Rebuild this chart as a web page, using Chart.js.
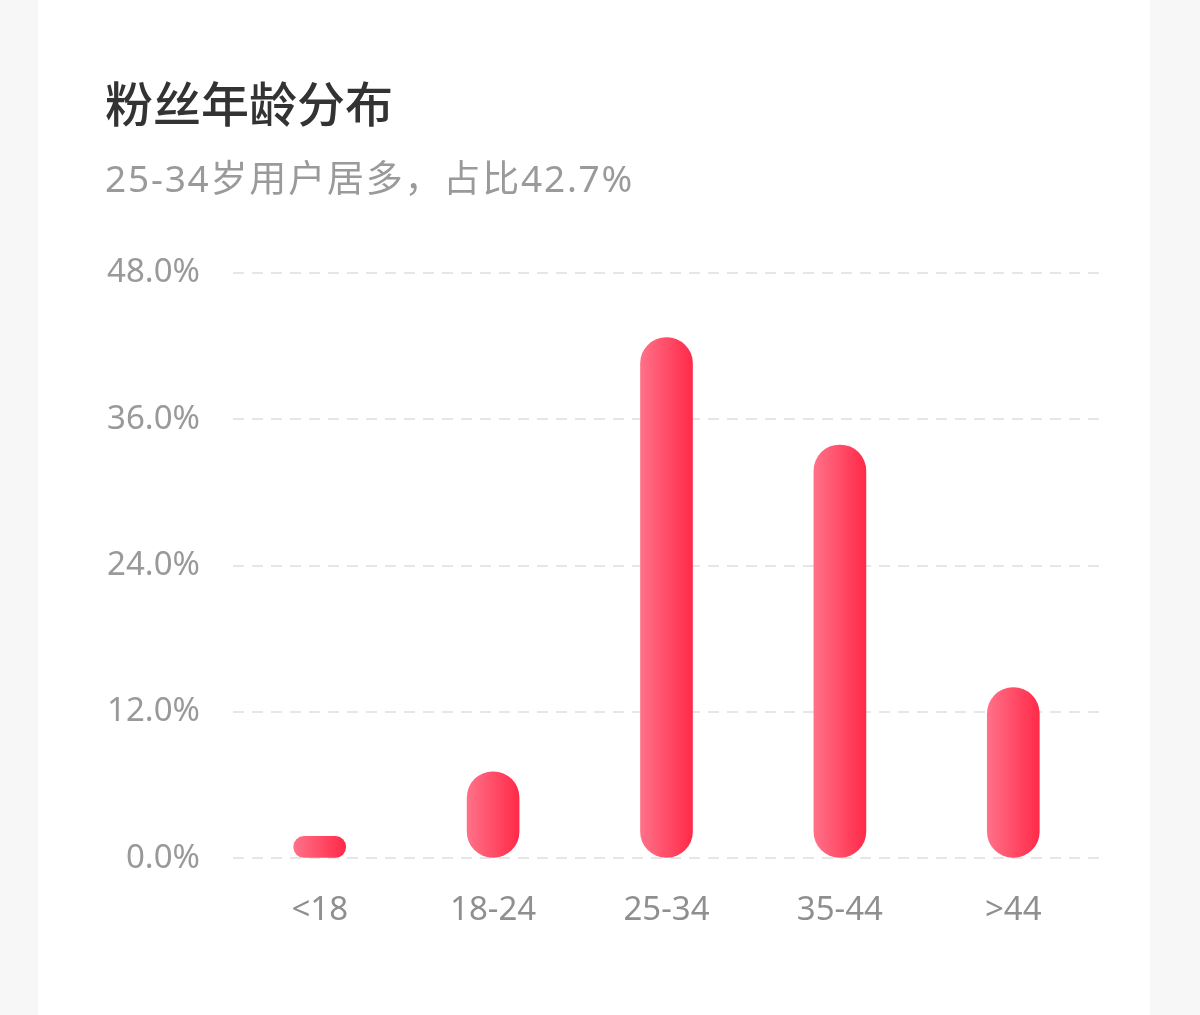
<!DOCTYPE html>
<html>
<head>
<meta charset="utf-8">
<script src="https://cdn.jsdelivr.net/npm/chart.js@4.4.0/dist/chart.umd.min.js"></script>
<style>
  html, body { margin: 0; padding: 0; background: #f7f7f7; }
  #card { position: absolute; left: 38px; top: 0; width: 1112px; height: 1015px; background: #fff; }
  #wrap { position: absolute; left: 0; top: 0; width: 1200px; height: 1015px; }
  .title { position: absolute; left: 105px; top: 77px; line-height: 48px; font-size: 48px;
           font-family: 'Noto Sans CJK SC', sans-serif; font-weight: 500; color: #333; white-space: nowrap; }
  .subtitle { position: absolute; left: 105px; top: 159px; line-height: 37px; font-size: 37px;
              font-family: 'Noto Sans', 'Noto Sans CJK SC', sans-serif; color: #9a9a9a;
              letter-spacing: 1.8px; white-space: nowrap; }
</style>
</head>
<body>
<div id="card"></div>
<div id="wrap"><canvas id="ageChart" width="1200" height="1015"></canvas></div>
<div class="title" id="title"></div>
<div class="subtitle" id="subtitle"></div>
<script>
// 粉丝年龄分布
const ageGroups = ['<18', '18-24', '25-34', '35-44', '>44'];
const fanShare = [1.8, 7.1, 42.7, 33.9, 14.0];
const yTicks = [0, 12, 24, 36, 48];

const chartTitle = '粉丝年龄分布';
const chartSubtitle = '25-34岁用户居多，占比42.7%';

document.getElementById('title').textContent = chartTitle;
document.getElementById('subtitle').textContent = chartSubtitle;

const BAR_W = 52;

function barGradient(context) {
  const chart = context.chart;
  if (!chart.chartArea || !chart.scales.x) return '#ff4560';
  const cx = chart.scales.x.getPixelForValue(context.dataIndex);
  const g = chart.ctx.createLinearGradient(cx - BAR_W / 2, 0, cx + BAR_W / 2, 0);
  g.addColorStop(0, '#ff7189');
  g.addColorStop(1, '#ff2a48');
  return g;
}

ctx = document.getElementById('ageChart').getContext('2d');
myChart = new Chart(ctx, {
  type: 'bar',
  data: {
    labels: ageGroups,
    datasets: [{
      data: fanShare,
      backgroundColor: barGradient,
      borderRadius: BAR_W / 2,
      borderSkipped: false,
      barThickness: BAR_W
    }]
  },
  options: {
    responsive: false,
    animation: false,
    layout: { padding: { left: 105, right: 100, top: 273, bottom: 53 } },
    plugins: {
      legend: { display: false },
      tooltip: { enabled: false }
    },
    scales: {
      x: {
        grid: { display: false, drawTicks: false },
        border: { display: false },
        ticks: {
          color: '#8f8f8f',
          padding: 32,
          font: { family: "'Noto Sans', sans-serif", size: 33 }
        }
      },
      y: {
        min: yTicks[0],
        max: yTicks[yTicks.length - 1],
        afterBuildTicks: (scale) => { scale.ticks = yTicks.map(v => ({ value: v })); },
        afterFit: (scale) => { scale.width = 128; },
        grid: { color: '#e6e6e6', lineWidth: 2, drawTicks: false },
        border: { display: false, dash: [11, 8] },
        ticks: {
          color: '#999999',
          padding: 33,
          font: { family: "'Noto Sans', sans-serif", size: 33 },
          callback: (v) => v.toFixed(1) + '%'
        }
      }
    }
  }
});
</script>
</body>
</html>
